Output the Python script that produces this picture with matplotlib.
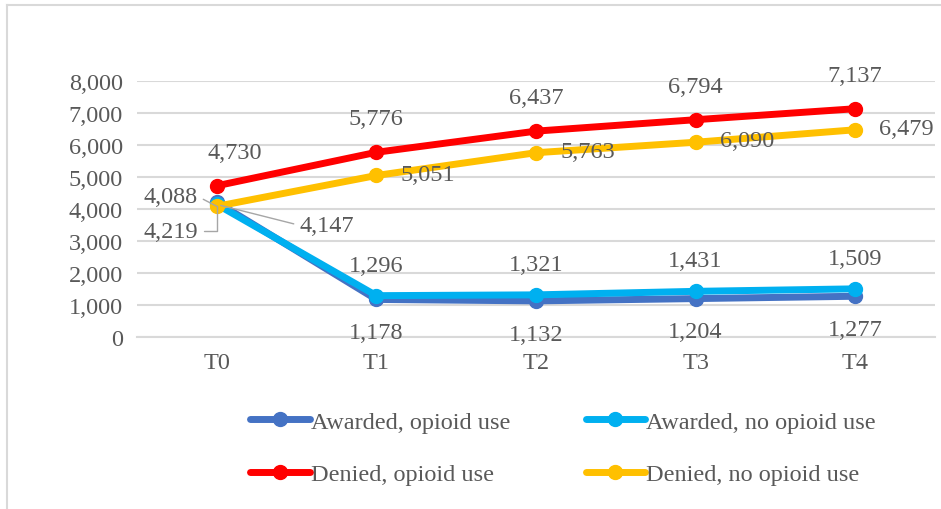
import matplotlib
matplotlib.use('Agg')
import matplotlib.pyplot as plt
from matplotlib.lines import Line2D

periods = ['T0', 'T1', 'T2', 'T3', 'T4']
awarded_opioid = [4219, 1178, 1132, 1204, 1277]
awarded_no_opioid = [4147, 1296, 1321, 1431, 1509]
denied_opioid = [4730, 5776, 6437, 6794, 7137]
denied_no_opioid = [4088, 5051, 5763, 6090, 6479]

series_names = ['Awarded, opioid use', 'Awarded, no opioid use',
                'Denied, opioid use', 'Denied, no opioid use']
colors = ['#4472C4', '#00B0F0', '#FF0000', '#FFC000']
text_color = '#595959'
grid_color = '#D9D9D9'

plt.rcParams['font.family'] = ['Liberation Serif', 'DejaVu Serif']
fs = 17.5

fig = plt.figure(figsize=(9.41, 5.10), dpi=100)
ax = fig.add_axes([0.1456, 0.337, 0.848, 0.502])

x = list(range(len(periods)))
all_series = [awarded_opioid, awarded_no_opioid, denied_opioid, denied_no_opioid]
lines = []
for vals, name, c in zip(all_series, series_names, colors):
    ln, = ax.plot(x, vals, color=c, lw=5, marker='o', markersize=10,
                  solid_capstyle='round', label=name)
    lines.append(ln)

ax.set_xlim(-0.5, len(periods) - 0.5)
ax.set_ylim(0, 8000)
ax.set_yticks(range(0, 8001, 1000))
ax.set_yticklabels([f'{v:,}' for v in range(0, 8001, 1000)])
ax.set_xticks(x)
ax.set_xticklabels(periods)
ax.tick_params(length=0, labelsize=fs, colors=text_color, pad=10)
ax.tick_params(axis='x', pad=11)
ax.yaxis.grid(True, color=grid_color, lw=1.5)
ax.set_axisbelow(True)
for s in ['top', 'right', 'left']:
    ax.spines[s].set_visible(False)
ax.spines['bottom'].set_color(grid_color)
ax.spines['bottom'].set_linewidth(1.5)


def label(xi, v, dx, dy, **kw):
    ax.annotate(f'{v:,}', (xi, v), xytext=(dx, dy), textcoords='offset points',
                ha='center', va='center', fontsize=fs, color=text_color, **kw)


# data labels from T1 onwards
for i in range(1, len(periods)):
    label(i, denied_opioid[i], 0, 24)
    label(i, denied_no_opioid[i], 37, 1)
    label(i, awarded_no_opioid[i], 0, 22)
    label(i, awarded_opioid[i], 0, -24)

# T0 labels, three of them pulled out with leader lines
leader = '#A6A6A6'
label(0, denied_opioid[0], 13, 24)
label(0, denied_no_opioid[0], -33, 7,
      arrowprops=dict(arrowstyle='-', color=leader, lw=1, relpos=(1, 0.5),
                      shrinkA=2, shrinkB=0))
label(0, awarded_opioid[0], -33, -21,
      arrowprops=dict(arrowstyle='-', color=leader, lw=1, relpos=(1, 0.5),
                      connectionstyle='angle,angleA=0,angleB=90,rad=0',
                      shrinkA=2, shrinkB=3))
label(0, awarded_no_opioid[0], 79, -15,
      arrowprops=dict(arrowstyle='-', color=leader, lw=1, relpos=(0, 0.5),
                      shrinkA=2, shrinkB=3))

# legend fills column-first, so order the handles to read across rows
order = [0, 2, 1, 3]
leg = fig.legend([lines[i] for i in order], [series_names[i] for i in order],
                 loc='upper left', bbox_to_anchor=(0.2529, 0.216), ncol=2,
                 frameon=False, fontsize=fs, handlelength=2.45, handletextpad=0.05,
                 columnspacing=3.1, labelspacing=1.25, borderpad=0)
for t in leg.get_texts():
    t.set_color(text_color)

# chart area frame
fig.add_artist(Line2D([0.007, 0.007], [-0.1, 0.988], color=grid_color, lw=1.5,
                      transform=fig.transFigure))
fig.add_artist(Line2D([0.007, 1.1], [0.988, 0.988], color=grid_color, lw=1.5,
                      transform=fig.transFigure))

fig.savefig('out.png', dpi=100)
